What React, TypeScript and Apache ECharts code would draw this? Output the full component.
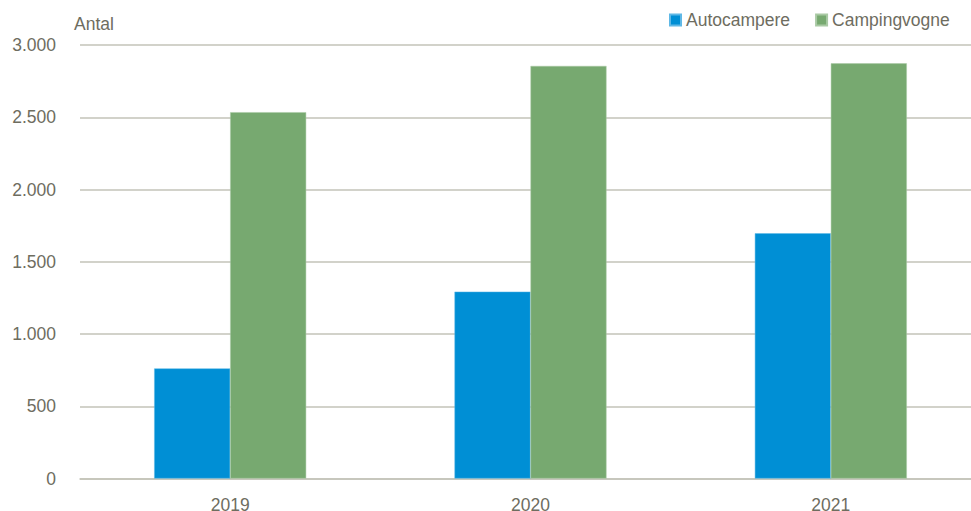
import React, { useEffect, useRef } from "react";
import * as echarts from "echarts";

const categories = ["2019", "2020", "2021"];
const autocampere = [762, 1293, 1697];
const campingvogne = [2535, 2855, 2873];
const seriesNames = ["Autocampere", "Campingvogne"];
const yAxisTitle = "Antal";

const FONT = "'Liberation Sans', Arial, sans-serif";
const FS = 17.5;
const TEXT = "#6e6d5f";
const GRID = "#c3c3b8";

export default function App() {
  const ref = useRef<HTMLDivElement>(null);
  useEffect(() => {
    if (!ref.current) return;
    const chart = echarts.init(ref.current, null, { renderer: "svg" });
    chart.setOption({
      animation: false,
      textStyle: { fontFamily: FONT },
      grid: {
        left: 80,
        width: 901,
        top: 45,
        bottom: 32.5,
        containLabel: false,
        outerBoundsMode: "none",
      },
      legend: {
        left: 669,
        top: 11,
        width: 400,
        padding: 0,
        icon: "rect",
        itemWidth: 11,
        itemHeight: 11,
        itemGap: 25,
        textStyle: { fontFamily: FONT, fontSize: FS, color: TEXT },
        data: seriesNames,
      },
      graphic: [
        {
          type: "text",
          left: 74,
          top: 15,
          style: { text: yAxisTitle, font: `${FS}px ${FONT}`, fill: TEXT },
        },
      ],
      xAxis: {
        type: "category",
        data: categories,
        axisLine: { show: true, lineStyle: { color: GRID, width: 1.5 } },
        axisTick: { show: false },
        axisLabel: { color: TEXT, fontSize: FS, fontFamily: FONT, margin: 17 },
      },
      yAxis: {
        type: "value",
        min: 0,
        max: 3000,
        interval: 500,
        axisLine: { show: false },
        axisTick: { show: false },
        splitLine: { lineStyle: { color: GRID, width: 1.5 } },
        axisLabel: {
          color: TEXT,
          fontSize: FS,
          fontFamily: FONT,
          margin: 24,
          formatter: (v: number) => v.toLocaleString("de-DE"),
        },
      },
      series: [
        {
          name: seriesNames[0],
          type: "bar",
          data: autocampere,
          barWidth: 76,
          barGap: "0%",
          itemStyle: { color: "#008fd5", borderColor: "#5fb8e6", borderWidth: 0.5 },
        },
        {
          name: seriesNames[1],
          type: "bar",
          data: campingvogne,
          barWidth: 76,
          barGap: "0%",
          itemStyle: { color: "#77a970", borderColor: "#a9c9a4", borderWidth: 0.5 },
        },
      ],
    });
    return () => chart.dispose();
  }, []);
  return <div ref={ref} style={{ width: 971, height: 511, position: "absolute", left: 0, top: 0 }} />;
}
